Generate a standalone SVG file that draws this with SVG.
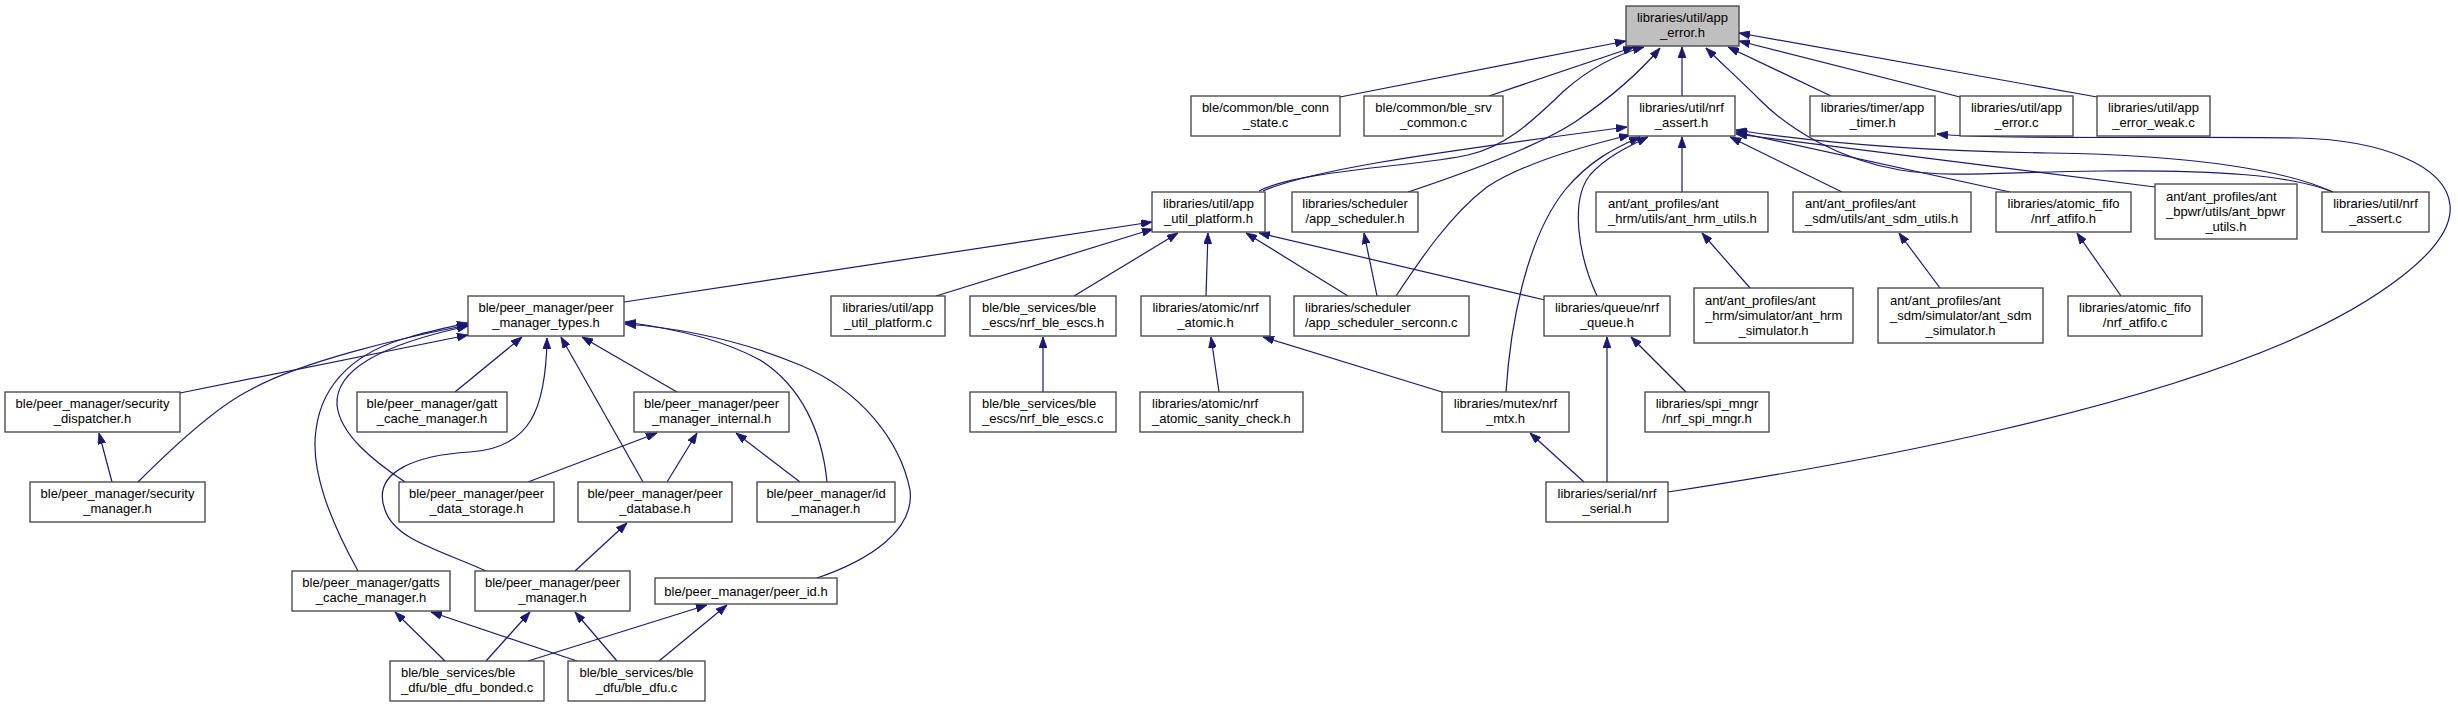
<svg xmlns="http://www.w3.org/2000/svg" width="2458" height="707" viewBox="0 0 2458 707">
<style>
.node rect{fill:#ffffff;stroke:#404040;stroke-width:1.3}
.node rect.hl{fill:#bfbfbf}
.node text{font-family:"Liberation Sans",Arial,Helvetica,sans-serif;font-size:13px;fill:#000;text-anchor:middle}
.node text.l{text-anchor:start}
.edges path{fill:none;stroke:#191970;stroke-width:1.2;marker-end:url(#arr)}
</style>
<defs>
<marker id="arr" viewBox="0 0 11 8" refX="11" refY="4" markerWidth="11" markerHeight="8" markerUnits="userSpaceOnUse" orient="auto">
<path d="M0,0 L11,4 L0,8 z" fill="#191970" stroke="#191970" stroke-width="0.8"/>
</marker>
</defs>
<rect width="2458" height="707" fill="#ffffff"/>
<g class="edges" id="connectors">
<path d="M1340,97 L1626,41"/>
<path d="M1489,96 L1634,47"/>
<path d="M1259,191 C1300,170 1420,166 1468,155 C1510,145 1535,118 1565,90 C1590,68 1615,55 1644,47"/>
<path d="M1408,192 C1480,168 1540,145 1575,122 C1610,98 1640,72 1660,48"/>
<path d="M1682,96 L1682,47"/>
<path d="M2333,192 C2290,175 2220,170 2100,171 C2000,172 1950,178 1900,170 C1840,160 1790,130 1760,100 C1740,80 1720,62 1706,48"/>
<path d="M1831,96 L1728,47"/>
<path d="M1960,97 L1739,41"/>
<path d="M2097,97 L1739,33"/>
<path d="M1263,191 C1310,171 1400,157 1627,127"/>
<path d="M1396,296 C1420,260 1450,215 1487,187 C1520,165 1580,147 1630,135"/>
<path d="M1506,392 C1510,330 1525,240 1565,190 C1590,160 1615,148 1640,137"/>
<path d="M1597,296 C1578,255 1570,200 1590,175 C1605,158 1625,148 1648,137"/>
<path d="M1682,192 L1682,137"/>
<path d="M1842,192 L1730,137"/>
<path d="M2010,192 L1736,132"/>
<path d="M2155,187 L1736,134"/>
<path d="M2333,192 C2290,172 2200,155 2050,153 C1900,151 1800,140 1736,130"/>
<path d="M1668,492 C1880,460 2130,410 2291,340 C2370,305 2455,250 2450,205 C2446,165 2380,140 2300,138 C2200,136 2000,140 1937,134"/>
<path d="M624,302 L1152,222"/>
<path d="M936,296 L1153,229"/>
<path d="M1074,296 L1178,233"/>
<path d="M1206,296 L1208,233"/>
<path d="M1348,296 L1246,233"/>
<path d="M1545,300 L1259,233"/>
<path d="M1377,296 L1364,233"/>
<path d="M1750,288 L1702,233"/>
<path d="M1940,288 L1899,233"/>
<path d="M2121,296 L2077,233"/>
<path d="M1043,392 L1043,337"/>
<path d="M1219,392 L1211,337"/>
<path d="M1442,392 L1263,337"/>
<path d="M1686,392 L1631,337"/>
<path d="M1607,482 L1607,337"/>
<path d="M1584,482 L1530,433"/>
<path d="M180,393 L468,335"/>
<path d="M138,482 C180,440 220,405 250,390 C300,362 400,338 468,325"/>
<path d="M358,571 C330,520 310,470 316,430 C322,380 360,350 410,337 C430,331 450,327 468,323"/>
<path d="M405,482 C375,462 340,435 337,405 C335,370 380,345 468,326"/>
<path d="M455,392 L522,337"/>
<path d="M486,571 C440,550 395,540 385,510 C370,470 420,455 470,452 C530,448 546,410 547,338"/>
<path d="M643,482 L561,337"/>
<path d="M677,392 L582,337"/>
<path d="M827,482 C822,430 800,385 760,360 C720,338 670,328 625,322"/>
<path d="M817,578 C870,560 915,530 910,490 C900,440 860,390 800,365 C740,340 680,328 625,324"/>
<path d="M528,482 L657,433"/>
<path d="M667,482 L697,433"/>
<path d="M800,482 L736,433"/>
<path d="M112,482 L99,433"/>
<path d="M575,571 L627,523"/>
<path d="M445,661 L395,612"/>
<path d="M577,661 L431,612"/>
<path d="M486,661 L530,612"/>
<path d="M617,661 L575,612"/>
<path d="M528,661 L707,605"/>
<path d="M659,661 L727,605"/>
</g>
<g class="node" id="app_error_h"><rect class="hl" x="1626" y="6" width="113" height="40"/><text x="1682.5" y="22">libraries/util/app</text><text x="1682.5" y="37">_error.h</text></g>
<g class="node" id="ble_conn_state_c"><rect x="1191" y="96" width="149" height="40"/><text x="1265.5" y="112">ble/common/ble_conn</text><text x="1265.5" y="127">_state.c</text></g>
<g class="node" id="ble_srv_common_c"><rect x="1364" y="96" width="139" height="40"/><text x="1433.5" y="112">ble/common/ble_srv</text><text x="1433.5" y="127">_common.c</text></g>
<g class="node" id="nrf_assert_h"><rect x="1628" y="96" width="107" height="40"/><text x="1681.5" y="112">libraries/util/nrf</text><text x="1681.5" y="127">_assert.h</text></g>
<g class="node" id="app_timer_h"><rect x="1810" y="96" width="125" height="40"/><text x="1872.5" y="112">libraries/timer/app</text><text x="1872.5" y="127">_timer.h</text></g>
<g class="node" id="app_error_c"><rect x="1960" y="96" width="113" height="40"/><text x="2016.5" y="112">libraries/util/app</text><text x="2016.5" y="127">_error.c</text></g>
<g class="node" id="app_error_weak_c"><rect x="2097" y="96" width="113" height="40"/><text x="2153.5" y="112">libraries/util/app</text><text x="2153.5" y="127">_error_weak.c</text></g>
<g class="node" id="app_util_platform_h"><rect x="1152" y="192" width="113" height="40"/><text x="1208.5" y="208">libraries/util/app</text><text x="1208.5" y="223">_util_platform.h</text></g>
<g class="node" id="app_scheduler_h"><rect x="1292" y="192" width="126" height="40"/><text x="1355" y="208">libraries/scheduler</text><text x="1355" y="223">/app_scheduler.h</text></g>
<g class="node" id="ant_hrm_utils_h"><rect x="1596" y="192" width="172" height="40"/><text class="l" x="1608" y="208">ant/ant_profiles/ant</text><text class="l" x="1608" y="223">_hrm/utils/ant_hrm_utils.h</text></g>
<g class="node" id="ant_sdm_utils_h"><rect x="1793" y="192" width="178" height="40"/><text class="l" x="1805" y="208">ant/ant_profiles/ant</text><text class="l" x="1805" y="223">_sdm/utils/ant_sdm_utils.h</text></g>
<g class="node" id="nrf_atfifo_h"><rect x="1996" y="192" width="135" height="40"/><text x="2063.5" y="208">libraries/atomic_fifo</text><text x="2063.5" y="223">/nrf_atfifo.h</text></g>
<g class="node" id="ant_bpwr_utils_h"><rect x="2155" y="184" width="142" height="55"/><text class="l" x="2166" y="201">ant/ant_profiles/ant</text><text class="l" x="2166" y="216">_bpwr/utils/ant_bpwr</text><text x="2226" y="231">_utils.h</text></g>
<g class="node" id="nrf_assert_c"><rect x="2322" y="192" width="107" height="40"/><text x="2375.5" y="208">libraries/util/nrf</text><text x="2375.5" y="223">_assert.c</text></g>
<g class="node" id="ant_hrm_simulator_h"><rect x="1694" y="288" width="159" height="55"/><text class="l" x="1705" y="305">ant/ant_profiles/ant</text><text class="l" x="1705" y="320">_hrm/simulator/ant_hrm</text><text x="1773.5" y="335">_simulator.h</text></g>
<g class="node" id="ant_sdm_simulator_h"><rect x="1878" y="288" width="165" height="55"/><text class="l" x="1890" y="305">ant/ant_profiles/ant</text><text class="l" x="1890" y="320">_sdm/simulator/ant_sdm</text><text x="1960.5" y="335">_simulator.h</text></g>
<g class="node" id="nrf_atfifo_c"><rect x="2068" y="296" width="134" height="40"/><text x="2135" y="312">libraries/atomic_fifo</text><text x="2135" y="327">/nrf_atfifo.c</text></g>
<g class="node" id="peer_manager_types_h"><rect x="468" y="296" width="156" height="40"/><text x="546" y="312">ble/peer_manager/peer</text><text x="546" y="327">_manager_types.h</text></g>
<g class="node" id="app_util_platform_c"><rect x="831" y="296" width="114" height="40"/><text x="888" y="312">libraries/util/app</text><text x="888" y="327">_util_platform.c</text></g>
<g class="node" id="nrf_ble_escs_h"><rect x="970" y="296" width="146" height="40"/><text class="l" x="982" y="312">ble/ble_services/ble</text><text class="l" x="982" y="327">_escs/nrf_ble_escs.h</text></g>
<g class="node" id="nrf_atomic_h"><rect x="1141" y="296" width="129" height="40"/><text x="1205.5" y="312">libraries/atomic/nrf</text><text x="1205.5" y="327">_atomic.h</text></g>
<g class="node" id="app_scheduler_serconn_c"><rect x="1294" y="296" width="175" height="40"/><text class="l" x="1305" y="312">libraries/scheduler</text><text class="l" x="1305" y="327">/app_scheduler_serconn.c</text></g>
<g class="node" id="nrf_queue_h"><rect x="1544" y="296" width="126" height="40"/><text x="1607" y="312">libraries/queue/nrf</text><text x="1607" y="327">_queue.h</text></g>
<g class="node" id="security_dispatcher_h"><rect x="5" y="392" width="175" height="40"/><text x="92.5" y="408">ble/peer_manager/security</text><text x="92.5" y="423">_dispatcher.h</text></g>
<g class="node" id="gatt_cache_manager_h"><rect x="357" y="392" width="150" height="40"/><text x="432" y="408">ble/peer_manager/gatt</text><text x="432" y="423">_cache_manager.h</text></g>
<g class="node" id="peer_manager_internal_h"><rect x="634" y="392" width="155" height="40"/><text x="711.5" y="408">ble/peer_manager/peer</text><text x="711.5" y="423">_manager_internal.h</text></g>
<g class="node" id="nrf_ble_escs_c"><rect x="970" y="392" width="146" height="40"/><text class="l" x="982" y="408">ble/ble_services/ble</text><text class="l" x="982" y="423">_escs/nrf_ble_escs.c</text></g>
<g class="node" id="nrf_atomic_sanity_check_h"><rect x="1140" y="392" width="163" height="40"/><text class="l" x="1152" y="408">libraries/atomic/nrf</text><text class="l" x="1152" y="423">_atomic_sanity_check.h</text></g>
<g class="node" id="nrf_mtx_h"><rect x="1442" y="392" width="127" height="40"/><text x="1505.5" y="408">libraries/mutex/nrf</text><text x="1505.5" y="423">_mtx.h</text></g>
<g class="node" id="nrf_spi_mngr_h"><rect x="1645" y="392" width="124" height="40"/><text x="1707" y="408">libraries/spi_mngr</text><text x="1707" y="423">/nrf_spi_mngr.h</text></g>
<g class="node" id="security_manager_h"><rect x="30" y="482" width="175" height="40"/><text x="117.5" y="498">ble/peer_manager/security</text><text x="117.5" y="513">_manager.h</text></g>
<g class="node" id="peer_data_storage_h"><rect x="399" y="482" width="155" height="40"/><text x="476.5" y="498">ble/peer_manager/peer</text><text x="476.5" y="513">_data_storage.h</text></g>
<g class="node" id="peer_database_h"><rect x="578" y="482" width="154" height="40"/><text x="655" y="498">ble/peer_manager/peer</text><text x="655" y="513">_database.h</text></g>
<g class="node" id="id_manager_h"><rect x="757" y="482" width="138" height="40"/><text x="826" y="498">ble/peer_manager/id</text><text x="826" y="513">_manager.h</text></g>
<g class="node" id="nrf_serial_h"><rect x="1546" y="482" width="122" height="40"/><text x="1607" y="498">libraries/serial/nrf</text><text x="1607" y="513">_serial.h</text></g>
<g class="node" id="gatts_cache_manager_h"><rect x="292" y="571" width="158" height="40"/><text x="371" y="587">ble/peer_manager/gatts</text><text x="371" y="602">_cache_manager.h</text></g>
<g class="node" id="peer_manager_h"><rect x="475" y="571" width="155" height="40"/><text x="552.5" y="587">ble/peer_manager/peer</text><text x="552.5" y="602">_manager.h</text></g>
<g class="node" id="peer_id_h"><rect x="655" y="578" width="182" height="26"/><text x="746" y="595.5">ble/peer_manager/peer_id.h</text></g>
<g class="node" id="ble_dfu_bonded_c"><rect x="390" y="661" width="154" height="40"/><text class="l" x="401" y="677">ble/ble_services/ble</text><text class="l" x="401" y="692">_dfu/ble_dfu_bonded.c</text></g>
<g class="node" id="ble_dfu_c"><rect x="568" y="661" width="137" height="40"/><text x="636.5" y="677">ble/ble_services/ble</text><text x="636.5" y="692">_dfu/ble_dfu.c</text></g>
</svg>
